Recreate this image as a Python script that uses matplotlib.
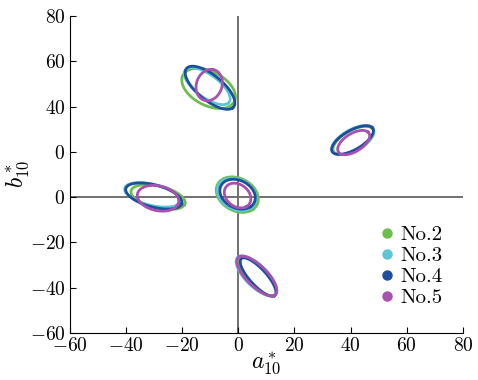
import numpy as np
import matplotlib
matplotlib.use('Agg')
from matplotlib import pyplot as plt
from matplotlib.lines import Line2D

plt.rcParams['mathtext.fontset'] = 'cm'
plt.rcParams['font.family'] = 'serif'

# ellipse groups: top-left, upper-right, left, centre, bottom
names = ['No.2', 'No.3', 'No.4', 'No.5']
colors = ['#6cbf4c', '#5cc6d2', '#1e4f9f', '#a851b0']

cx = [[-10.5, 41.0, -28.5, -0.3, 6.8],
      [-11.0, 40.8, -30.5, -0.5, 6.5],
      [-10.0, 40.7, -30.0, -0.2, 7.1],
      [-10.3, 41.1, -28.5, -0.2, 6.65]]
cy = [[48.0, 25.0, 0.0, 1.1, -35.0],
      [49.0, 25.2, 1.0, 1.2, -34.8],
      [48.3, 25.2, 0.5, 1.3, -35.3],
      [49.5, 24.1, -0.5, 0.7, -34.8]]
semi_a = [[11.0, 8.6, 10.0, 8.6, 10.4],
          [10.6, 8.9, 10.3, 7.9, 10.6],
          [12.0, 8.9, 10.5, 7.2, 10.1],
          [7.0, 6.9, 7.6, 5.8, 10.6]]
semi_b = [[7.0, 4.2, 4.8, 6.6, 3.6],
          [4.6, 4.3, 4.6, 6.1, 4.2],
          [5.0, 4.0, 4.8, 5.6, 3.2],
          [4.6, 3.7, 5.4, 4.3, 4.0]]
angle = [[-40, 38, -18, -50, -54],
         [-45, 38, -18, -50, -53],
         [-48, 38, -20, -50, -55],
         [80, 42, -20, -60, -53]]

xticks = [-60, -40, -20, 0, 20, 40, 60, 80]
yticks = [-60, -40, -20, 0, 20, 40, 60, 80]
ytick_labels = ['-60', '-40', '-20', '0', '0', '40', '60', '80']

fig = plt.figure(figsize=(4.78, 3.8), dpi=100)
ax = fig.add_axes([0.1454, 0.1237, 0.8232, 0.8343])

ax.axvline(0, color='#707070', lw=1.4, zorder=1)
ax.axhline(0, color='#707070', lw=1.4, zorder=1)

t = np.linspace(0, 2 * np.pi, 300)
for i in range(4):
    for j in range(5):
        th = np.deg2rad(angle[i][j])
        a, b = semi_a[i][j], semi_b[i][j]
        x = cx[i][j] + a * np.cos(t) * np.cos(th) - b * np.sin(t) * np.sin(th)
        y = cy[i][j] + a * np.cos(t) * np.sin(th) + b * np.sin(t) * np.cos(th)
        ax.plot(x, y, color=colors[i], lw=2.0, zorder=2 + i)

ax.set_xlim(-60, 80)
ax.set_ylim(-60, 80)
ax.set_xticks(xticks)
ax.set_xticklabels(['$%s$' % v for v in xticks])
ax.set_yticks(yticks)
ax.set_yticklabels(['$%s$' % s for s in ytick_labels])
ax.tick_params(direction='in', length=4, width=0.8, labelsize=14, pad=3)
ax.spines['top'].set_visible(False)
ax.spines['right'].set_visible(False)

ax.set_xlabel('$a^*_{10}$', fontsize=17, labelpad=-3)
ax.set_ylabel('$b^*_{10}$', fontsize=17, labelpad=-1)

handles = [Line2D([], [], marker='o', ls='none', color=c, markersize=6.5) for c in colors]
ax.legend(handles, names, loc='upper left', prop={'family': 'cmr10', 'size': 15},
          bbox_to_anchor=(0.737, 0.385), frameon=False,
          handletextpad=0.05, labelspacing=0.12, handlelength=1.2, borderpad=0.2)

fig.savefig('out.png', dpi=100)
